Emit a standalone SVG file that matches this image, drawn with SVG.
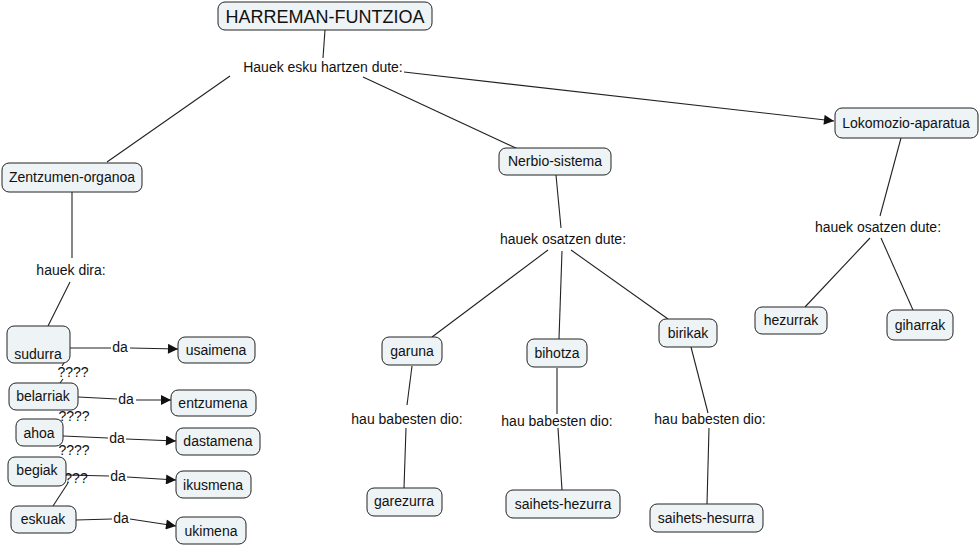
<svg xmlns="http://www.w3.org/2000/svg" width="980" height="548" viewBox="0 0 980 548">
<style>
.n rect{fill:#eef3f5;stroke:#222;stroke-width:1}
text{font-family:"Liberation Sans",Arial,sans-serif;font-size:14px;fill:#111;text-anchor:middle}
.c line{stroke:#222;stroke-width:1.1}
.big{font-size:18px}
</style>
<defs>
<marker id="ah" viewBox="0 0 10 10" refX="10" refY="5" markerWidth="12" markerHeight="10" markerUnits="userSpaceOnUse" orient="auto"><path d="M0,0L10,5L0,10z" fill="#111"/></marker>
</defs>
<rect width="980" height="548" fill="#fff"/>
<g id="connectors" class="c">
<line x1="325" y1="30" x2="323" y2="58"/>
<line x1="230" y1="76" x2="107" y2="162"/>
<line x1="363" y1="77" x2="518" y2="149"/>
<line x1="404" y1="72" x2="834" y2="121" marker-end="url(#ah)"/>
<line x1="72" y1="192" x2="72" y2="258"/>
<line x1="70" y1="282" x2="48" y2="326"/>
<line x1="556" y1="175" x2="561" y2="228"/>
<line x1="548" y1="250" x2="432" y2="337"/>
<line x1="562" y1="251" x2="559" y2="339"/>
<line x1="571" y1="250" x2="668" y2="319"/>
<line x1="901" y1="138" x2="880" y2="216"/>
<line x1="870" y1="238" x2="805" y2="307"/>
<line x1="881" y1="238" x2="913" y2="310"/>
<line x1="412" y1="366" x2="407" y2="405"/>
<line x1="406" y1="428" x2="404" y2="488"/>
<line x1="557" y1="368" x2="557" y2="414"/>
<line x1="558" y1="428" x2="562" y2="490"/>
<line x1="691" y1="347" x2="708" y2="413"/>
<line x1="709" y1="428" x2="707" y2="504"/>
<line x1="64" y1="363" x2="62" y2="366"/>
<line x1="63" y1="379" x2="60" y2="383"/>
<line x1="68" y1="483" x2="53" y2="506"/>
<line x1="70" y1="348" x2="111" y2="348"/>
<line x1="130" y1="348" x2="178" y2="349" marker-end="url(#ah)"/>
<line x1="78" y1="397" x2="117" y2="399"/>
<line x1="136" y1="400" x2="171" y2="400" marker-end="url(#ah)"/>
<line x1="63" y1="436" x2="108" y2="438"/>
<line x1="126" y1="439" x2="176" y2="441" marker-end="url(#ah)"/>
<line x1="66" y1="475" x2="109" y2="476"/>
<line x1="127" y1="477" x2="176" y2="480" marker-end="url(#ah)"/>
<line x1="76" y1="520" x2="112" y2="519"/>
<line x1="130" y1="519" x2="176" y2="526" marker-end="url(#ah)"/>
</g>
<g id="linklabels">
<text x="323" y="72">Hauek esku hartzen dute:</text>
<text x="71" y="275">hauek dira:</text>
<text x="563" y="244">hauek osatzen dute:</text>
<text x="878" y="232">hauek osatzen dute:</text>
<text x="407" y="424">hau babesten dio:</text>
<text x="557" y="426">hau babesten dio:</text>
<text x="710" y="424">hau babesten dio:</text>
<text x="73" y="377">????</text>
<text x="74" y="421">????</text>
<text x="74" y="455">????</text>
<text x="76" y="483">???</text>
<text x="120" y="352">da</text>
<text x="126" y="404">da</text>
<text x="117" y="443">da</text>
<text x="118" y="481">da</text>
<text x="121" y="523">da</text>
</g>
<g id="harreman" class="n"><rect x="218" y="2" width="214" height="28" rx="7"/><text class="big" x="325" y="23">HARREMAN-FUNTZIOA</text></g>
<g id="zentzumen" class="n"><rect x="2" y="163" width="140" height="29" rx="7"/><text x="72" y="182">Zentzumen-organoa</text></g>
<g id="nerbio" class="n"><rect x="499" y="148" width="112" height="27" rx="7"/><text x="555" y="166">Nerbio-sistema</text></g>
<g id="lokomozio" class="n"><rect x="835" y="108" width="143" height="30" rx="7"/><text x="906" y="128">Lokomozio-aparatua</text></g>
<g id="garuna" class="n"><rect x="382" y="337" width="60" height="28" rx="7"/><text x="412" y="356">garuna</text></g>
<g id="bihotza" class="n"><rect x="527" y="339" width="60" height="28" rx="7"/><text x="557" y="358">bihotza</text></g>
<g id="birikak" class="n"><rect x="659" y="319" width="58" height="28" rx="7"/><text x="688" y="338">birikak</text></g>
<g id="hezurrak" class="n"><rect x="755" y="307" width="72" height="27" rx="7"/><text x="791" y="325">hezurrak</text></g>
<g id="giharrak" class="n"><rect x="887" y="310" width="66" height="30" rx="7"/><text x="920" y="330">giharrak</text></g>
<g id="garezurra" class="n"><rect x="367" y="488" width="75" height="28" rx="7"/><text x="404" y="506">garezurra</text></g>
<g id="saihets-hezurra" class="n"><rect x="506" y="490" width="114" height="28" rx="7"/><text x="563" y="509">saihets-hezurra</text></g>
<g id="saihets-hesurra" class="n"><rect x="650" y="504" width="113" height="28" rx="7"/><text x="706" y="523">saihets-hesurra</text></g>
<g id="sudurra" class="n"><rect x="7" y="326" width="63" height="37" rx="7"/><text x="38" y="359">sudurra</text></g>
<g id="belarriak" class="n"><rect x="9" y="383" width="69" height="27" rx="7"/><text x="43" y="401">belarriak</text></g>
<g id="ahoa" class="n"><rect x="16" y="419" width="47" height="27" rx="7"/><text x="39" y="438">ahoa</text></g>
<g id="begiak" class="n"><rect x="8" y="457" width="58" height="29" rx="7"/><text x="37" y="475">begiak</text></g>
<g id="eskuak" class="n"><rect x="11" y="506" width="65" height="27" rx="7"/><text x="43" y="524">eskuak</text></g>
<g id="usaimena" class="n"><rect x="178" y="337" width="77" height="26" rx="7"/><text x="216" y="355">usaimena</text></g>
<g id="entzumena" class="n"><rect x="171" y="390" width="85" height="26" rx="7"/><text x="213" y="408">entzumena</text></g>
<g id="dastamena" class="n"><rect x="176" y="428" width="84" height="27" rx="7"/><text x="218" y="446">dastamena</text></g>
<g id="ikusmena" class="n"><rect x="176" y="471" width="75" height="27" rx="7"/><text x="213" y="490">ikusmena</text></g>
<g id="ukimena" class="n"><rect x="176" y="517" width="70" height="27" rx="7"/><text x="211" y="536">ukimena</text></g>
</svg>
